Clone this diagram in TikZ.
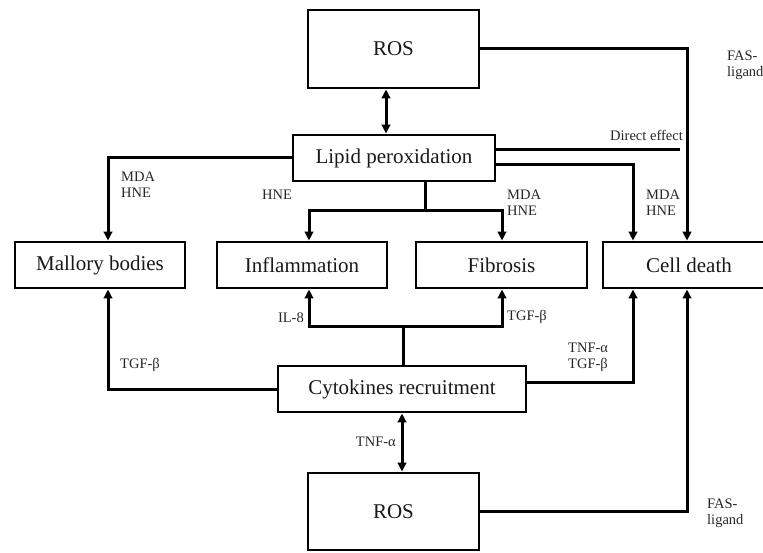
\documentclass[tikz,border=0pt]{standalone}
\usepackage{fontspec}
\setmainfont{Liberation Serif}
\usetikzlibrary{arrows.meta,calc}
\begin{document}
\begin{tikzpicture}[x=1pt,y=-1pt,
  box/.style={draw=black,line width=2.8pt,fill=white,inner sep=0pt,font=\fontsize{21}{24}\selectfont,text=black!90},
  conn/.style={line width=3pt,-{Triangle[length=9pt,width=8.5pt]}},
  plain/.style={line width=3pt},
  both/.style={line width=3pt,{Triangle[length=9pt,width=8.5pt]}-{Triangle[length=9pt,width=8.5pt]}},
  lbl/.style={font=\fontsize{14.5}{16}\selectfont,inner sep=0pt,align=left,text=black!85}]
\useasboundingbox (0,0) rectangle (763,553);
\begin{scope}
\clip (0,0) rectangle (763,553);
% boxes
\node[box,minimum width=171pt,minimum height=78pt] (rosT) at (393.5,49) {ROS};
\node[box,minimum width=202pt,minimum height=46pt] (lipid) at (394,158) {Lipid peroxidation};
\node[box,minimum width=170pt,minimum height=46pt] (mallory) at (100,265) {Mallory bodies};
\node[box,minimum width=170pt,minimum height=46pt] (inflam) at (302,265) {Inflammation};
\node[box,minimum width=171pt,minimum height=46pt] (fibro) at (501.5,265) {Fibrosis};
\node[box,minimum width=172pt,minimum height=46pt] (cell) at (689,265) {Cell death};
\node[box,minimum width=248pt,minimum height=46pt] (cyto) at (402,389) {Cytokines recruitment};
\node[box,minimum width=171pt,minimum height=77pt] (rosB) at (393.5,511.5) {ROS};
% helper coordinates
\coordinate (xA) at (386,0);
\coordinate (xF) at (687,0);
\coordinate (xL) at (633,0);
\coordinate (xM) at (108,0);
\coordinate (xI) at (309,0);
\coordinate (xB) at (502,0);
\coordinate (yL) at (0,165);
\coordinate (yC) at (0,382);
\coordinate (deEnd) at (680,150);
\coordinate (br) at (425,211);
\coordinate (br2) at (403,327);
% connectors
\draw[both] (rosT.south -| xA) -- (lipid.north -| xA);
\draw[conn] (rosT.east) -| (cell.north -| xF);
\draw[plain] (lipid.east |- deEnd) -- (deEnd);
\draw[conn] (lipid.east |- yL) -| (cell.north -| xL);
\draw[conn] (lipid.west) -| (mallory.north -| xM);
\draw[plain] (lipid.south -| br) -- (br);
\draw[conn] (br) -| (inflam.north -| xI);
\draw[conn] (br) -| (fibro.north -| xB);
\draw[plain] (cyto.north -| br2) -- (br2);
\draw[conn] (br2) -| (inflam.south -| xI);
\draw[conn] (br2) -| (fibro.south -| xB);
\draw[conn] (cyto.west) -| (mallory.south -| xM);
\draw[conn] (cyto.east |- yC) -| (cell.south -| xL);
\draw[both] (cyto.south) -- (rosB.north -| cyto.south);
\draw[conn] (rosB.east) -| (cell.south -| xF);
% labels
\node[lbl,anchor=west] (l1) at (727,65) {FAS-\\ligand};
\node[lbl,anchor=south east] (l2) at (683,141) {Direct effect};
\node[lbl,anchor=west] (l3) at (121,185) {MDA\\HNE};
\node[lbl,anchor=west] (l4) at (262,195) {HNE};
\node[lbl,anchor=west] (l5) at (507,203) {MDA\\HNE};
\node[lbl,anchor=west] (l6) at (646,203) {MDA\\HNE};
\node[lbl,anchor=east] (l7) at (304,318) {IL-8};
\node[lbl,anchor=west] (l8) at (507,317) {TGF-β};
\node[lbl,anchor=west] (l9) at (120,365) {TGF-β};
\node[lbl,anchor=west] (l10) at (568,357) {TNF-α\\TGF-β};
\node[lbl,anchor=east] (l11) at (396,442) {TNF-α};
\node[lbl,anchor=west] (l12) at (707,513) {FAS-\\ligand};
\end{scope}
\end{tikzpicture}
\end{document}
